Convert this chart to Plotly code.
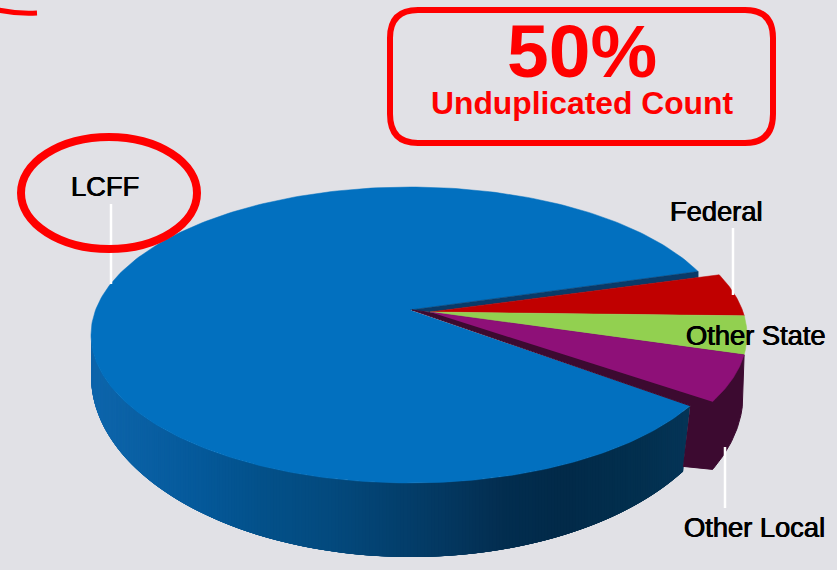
import numpy as np
import plotly.graph_objects as go

# Data
categories = ["LCFF", "Federal", "Other State", "Other Local"]
shares = [85.9, 4.6, 4.2, 5.3]
slice_colors = ["#0270bf", "#c00000", "#92d050", "#8e1078"]
headline = "50%"
subhead = "Unduplicated Count"

BG = "#e1e1e6"
START = 25.4
GAP = 3.2          # visual gap left by the pulled-out slices
EX_ROT = 1.4
TOP = dict(cx=410, cy=335, rx=319, ry=148)
BOT = dict(cx=411, cy=376, rx=320, ry=181)
EX_TOP = dict(cx=425, cy=335, rx=322, ry=148)
EX_BOT = dict(cx=423, cy=395, rx=320, ry=175)
APEX = (410, 310)
EX_APEX = (430, 312)


def pt(e, deg):
    a = np.radians(deg)
    return e["cx"] + e["rx"] * np.cos(a), e["cy"] - e["ry"] * np.sin(a)


def arc(e, a0, a1, n=120):
    t = np.linspace(a0, a1, n)
    return pt(e, t)


def blend(stops, x):
    xs = [s[0] for s in stops]
    r = np.interp(x, xs, [s[1][0] for s in stops])
    g = np.interp(x, xs, [s[1][1] for s in stops])
    b = np.interp(x, xs, [s[1][2] for s in stops])
    return f"rgb({int(r)},{int(g)},{int(b)})"


def poly(fig, x, y, color, line=1):
    fig.add_trace(go.Scatter(x=list(x), y=list(y), mode="lines", fill="toself",
                             fillcolor=color, line=dict(color=color, width=line),
                             hoverinfo="skip", showlegend=False))


fig = go.Figure()

# slice angles derived from the values
deg = [s * 3.6 for s in shares]
blue_a0 = START
blue_a1 = START + deg[0] - GAP
edges = [START - EX_ROT]
for d in deg[1:]:
    edges.append(edges[-1] - d)

# blue side wall: overlapping columns painted left to right for a smooth gradient
wall_stops = [(91, (14, 102, 172)), (200, (5, 89, 154)), (260, (3, 81, 138)), (330, (3, 74, 126)),
              (400, (3, 63, 108)), (450, (3, 55, 95)), (500, (3, 46, 80)), (560, (2, 42, 73)),
              (640, (3, 48, 79)), (690, (5, 53, 88))]
xe, ye = pt(TOP, blue_a1)
end_bot = 360 - 31.8
xf, yf = pt(BOT, end_bot)
tgrid = np.linspace(180, end_bot, 240)
xcol = BOT["cx"] + BOT["rx"] * np.cos(np.radians(tgrid))
ybot = BOT["cy"] - BOT["ry"] * np.sin(np.radians(tgrid))
u = np.clip((xcol - TOP["cx"]) / TOP["rx"], -1, 1)
ytop = TOP["cy"] + TOP["ry"] * np.sqrt(1 - u ** 2)
last = len(xcol) - 1
step = 5
for i in range(0, last, 1):
    j = min(i + step, last)
    seg = np.arange(i, j + 1)
    c = blend(wall_stops, xcol[i])
    poly(fig, np.r_[xcol[seg], xcol[seg][::-1]], np.r_[ytop[seg], ybot[seg][::-1]], c, 0)
# closing piece up to the cut edge
poly(fig, [xcol[last], xe, xf], [ytop[last], ye, yf], blend(wall_stops, xf), 0.5)

# blue top
xr, yr = arc(TOP, blue_a0, blue_a1, 300)
poly(fig, np.r_[APEX[0], xr], np.r_[APEX[1], yr], slice_colors[0], 0.5)

# dark cut face behind the top of the blue slice
x0, y0 = pt(TOP, blue_a0)
xred, yred = pt(EX_TOP, edges[0])
yedge = EX_APEX[1] + (yred - EX_APEX[1]) * (x0 - EX_APEX[0]) / (xred - EX_APEX[0])
poly(fig, [APEX[0], x0, x0, EX_APEX[0]], [APEX[1], y0, yedge, EX_APEX[1]], "#0a3a68", 0.5)

# dark purple side of the last slice
xa, ya = arc(EX_BOT, edges[3] + 1.6, edges[2] + 3.8, 60)
xtop, ytp = pt(EX_TOP, edges[2])
poly(fig, np.r_[xf, xa, xtop, EX_APEX[0], APEX[0] + 2, xe],
     np.r_[yf - 5, ya, ytp, EX_APEX[1], APEX[1], ye], "#3c0a30")

# pulled-out slices on top
for k in range(1, 4):
    xs, ys = arc(EX_TOP, edges[k - 1], edges[k], 40)
    poly(fig, np.r_[EX_APEX[0], xs], np.r_[EX_APEX[1], ys], slice_colors[k], 0.5)

# leaders
leaders = [(111, 204, 284), (733, 228, 295), (725, 447, 508)]
for lx, y1, y2 in leaders:
    fig.add_trace(go.Scatter(x=[lx, lx], y=[y1, y2], mode="lines",
                             line=dict(color="white", width=2.5),
                             hoverinfo="skip", showlegend=False))

LABEL_FONT = dict(family="Liberation Sans", size=27.3, color="#000000",
                  shadow="0.4px 0 0 #000, -0.4px 0 0 #000")
label_pos = [(105, 186), (716, 211), (756, 335), (754, 527)]
annotations = [dict(x=x, y=y, text=t, showarrow=False, font=LABEL_FONT, xref="x", yref="y",
                    xanchor="center", yanchor="middle")
               for t, (x, y) in zip(categories, label_pos)]
annotations += [
    dict(x=582, y=65,
         text=(f'<span style="font-size:75px"><b>{headline}</b></span><br>'
               f'<span style="font-size:31.8px"><b>{subhead}</b></span>'),
         showarrow=False, xref="x", yref="y", align="center",
         font=dict(family="Liberation Sans", size=28.4, color="#ff0000")),
]

shapes = [
    dict(type="path", path="M 418 10 L 745 10 Q 773 10 773 38 L 773 114 Q 773 143 745 143 L 418 143 Q 390 143 390 114 L 390 38 Q 390 10 418 10 Z",
         line=dict(color="#ff0000", width=6), xref="x", yref="y", layer="above"),
    dict(type="circle", x0=21, x1=197, y0=137, y1=249, line=dict(color="#ff0000", width=8),
         xref="x", yref="y", layer="above"),
    dict(type="path", path="M -2 10 Q 16 14 37 13", line=dict(color="#ff0000", width=5),
         xref="x", yref="y", layer="above"),
]

fig.update_layout(
    width=837, height=570, autosize=False,
    margin=dict(l=0, r=0, t=0, b=0),
    paper_bgcolor=BG, plot_bgcolor=BG,
    xaxis=dict(range=[0, 837], visible=False, fixedrange=True),
    yaxis=dict(range=[570, 0], visible=False, fixedrange=True),
    showlegend=False,
    annotations=annotations,
    shapes=shapes,
)
fig.write_html("out.html", post_script="document.body.style.margin='0';document.body.style.overflow='hidden';",
               config=dict(displayModeBar=False))
